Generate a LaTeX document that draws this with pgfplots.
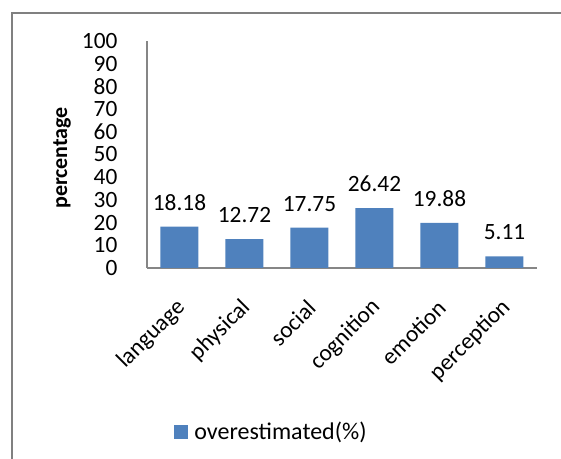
\documentclass[border=0pt]{standalone}
\usepackage{pgfplots}
\pgfplotsset{compat=1.18}
\usepackage{fontspec}
\setmainfont{Carlito}
\definecolor{barblue}{HTML}{4F81BD}
\definecolor{axgray}{HTML}{868686}
\begin{document}
\begin{tikzpicture}
\useasboundingbox (0,0) rectangle (420.75pt,344.25pt);
\draw[line width=1.5pt, color=gray] (9pt,0) -- (9pt,334.5pt) -- (421pt,334.5pt);
\begin{axis}[
  at={(110.25pt,143.25pt)}, anchor=south west,
  scale only axis, width=292.5pt, height=170.25pt,
  ymin=0, ymax=100, ytick={0,10,...,100},
  xmin=-0.5, xmax=5.5, xtick=data,
  xticklabels={language,physical,social,cognition,emotion,perception},
  axis x line*=bottom, axis y line*=left,
  axis line style={axgray, line width=0.9pt},
  major tick length=0pt,
  ybar, bar width=28.5pt,
  font=\fontsize{17.5}{20}\selectfont,
  /pgf/number format/assume math mode=true,
  yticklabel style={anchor=east, inner sep=0pt, xshift=-22pt},
  xticklabel style={rotate=45, anchor=east, inner sep=0pt, xshift=-17.8pt, yshift=-20.2pt},
  nodes near coords={\pgfmathprintnumber[fixed,fixed zerofill,precision=2]{\pgfplotspointmeta}},
  nodes near coords style={anchor=south, inner sep=0pt, yshift=12pt, font=\fontsize{17.5}{20}\selectfont},
  legend style={at={(rel axis cs:0.32,-0.722)}, anchor=center, draw=none, fill=none, font=\fontsize{18}{20}\selectfont},
  legend image code/.code={\fill[barblue] (0pt,-5pt) rectangle (10pt,5pt);},
  clip=false,
]
\addplot[fill=barblue, draw=none] coordinates {(0,18.18) (1,12.72) (2,17.75) (3,26.42) (4,19.88) (5,5.11)};
\addlegendentry{\hspace{3pt}overestimated(\%)}
\node[rotate=90, font=\fontsize{16.5}{18}\selectfont\bfseries] at (rel axis cs:-0.218,0.485) {percentage};
\end{axis}
\end{tikzpicture}
\end{document}
